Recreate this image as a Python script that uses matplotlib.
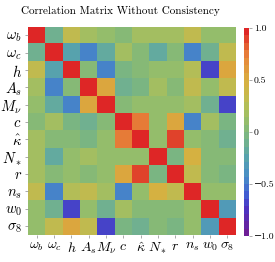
import numpy as np
import matplotlib
matplotlib.use("Agg")
import matplotlib.pyplot as plt
from matplotlib.colors import LinearSegmentedColormap

# ------------------------------
# Data
# ------------------------------
params = [r"$\omega_b$", r"$\omega_c$", r"$h$", r"$A_s$", r"$M_\nu$", r"$c$",
          r"$\hat{\kappa}$", r"$N_*$", r"$r$", r"$n_s$", r"$w_0$", r"$\sigma_8$"]

# upper triangle rows (diagonal = 1)
row_wb = [1.0, -0.10, 0.35, 0.20, 0.10, 0.00, 0.15, 0.15, 0.15, 0.30, 0.10, 0.10]
row_wc = [1.0, -0.25, -0.45, -0.20, 0.20, 0.05, -0.20, 0.00, -0.45, -0.10, 0.30]
row_h = [1.0, 0.05, -0.45, -0.05, 0.05, 0.10, 0.10, 0.25, -0.70, 0.55]
row_As = [1.0, 0.50, -0.10, -0.05, 0.20, 0.05, 0.30, 0.10, 0.30]
row_Mnu = [1.0, 0.05, 0.10, 0.10, 0.10, 0.15, -0.10, -0.70]
row_c = [1.0, 0.75, 0.10, 0.50, -0.45, 0.15, -0.05]
row_kappa = [1.0, 0.10, 0.90, 0.10, 0.05, -0.10]
row_Nstar = [1.0, -0.05, 0.45, 0.05, 0.05]
row_r = [1.0, 0.30, 0.05, -0.05]
row_ns = [1.0, 0.10, 0.10]
row_w0 = [1.0, -0.30]
row_s8 = [1.0]

rows = [row_wb, row_wc, row_h, row_As, row_Mnu, row_c,
        row_kappa, row_Nstar, row_r, row_ns, row_w0, row_s8]

cbar_ticks = [-1.0, -0.5, 0, 0.5, 1.0]
cbar_labels = ["\u22121.0", "\u22120.5", "0", "0.5", "1.0"]

n = len(params)
corr = np.zeros((n, n))
for i, row in enumerate(rows):
    corr[i, i:] = row
    corr[i:, i] = row

# ------------------------------
# Colormap
# ------------------------------
stops = [-1.0, -0.75, -0.62, -0.45, -0.25, -0.10, 0.0, 0.15, 0.30, 0.50, 0.75, 1.0]
cols = ["#6e1e96", "#4a34c4", "#4160d2", "#488cc8", "#58a4ac", "#72b28e",
        "#80b87c", "#9cbf66", "#bcbd52", "#d8b040", "#e8863a", "#de2626"]
cmap = LinearSegmentedColormap.from_list(
    "corr", list(zip([(s + 1) / 2 for s in stops], cols)), N=28)

plt.rcParams["mathtext.fontset"] = "cm"
plt.rcParams["font.family"] = ["cmr10", "DejaVu Serif"]

fig = plt.figure(figsize=(2.75, 2.62), dpi=100)
ax = fig.add_axes([0.102, 0.104, 0.756, 0.794])
im = ax.imshow(corr, cmap=cmap, vmin=-1, vmax=1, aspect="auto",
               interpolation="nearest")

ax.set_xticks(range(n))
ax.set_yticks(range(n))
ax.set_xticklabels(params, fontsize=10)
ax.set_yticklabels(params, fontsize=10.5)
ax.tick_params(length=2.5, width=0.5, color="#888888", pad=2)
for s in ax.spines.values():
    s.set_visible(False)

cax = fig.add_axes([0.887, 0.099, 0.018, 0.794])
cb = fig.colorbar(im, cax=cax)
cb.outline.set_visible(False)
cb.set_ticks(cbar_ticks)
cb.set_ticklabels(cbar_labels)
for t in cb.ax.get_yticklabels():
    t.set_family(["cmr10", "DejaVu Serif"])
cb.ax.tick_params(labelsize=7, length=2, width=0.5, color="#888888", pad=1.5)

fig.text(0.438, 0.958, "Correlation Matrix Without Consistency",
         ha="center", va="center", fontsize=8)

fig.savefig("out.png", dpi=100)
